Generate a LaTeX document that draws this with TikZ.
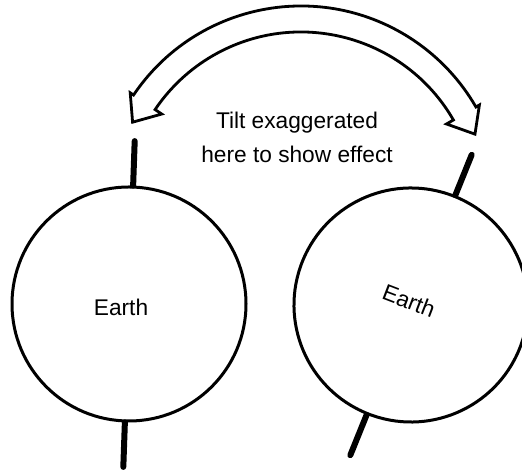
\documentclass[tikz,border=0pt]{standalone}
\usepackage{fontspec}
\setmainfont{Liberation Sans}
\usepackage{tikz}

\tikzset{
  earth/.style={circle, draw, line width=3pt, minimum size=234pt, inner sep=0pt},
  poleaxis/.style={line width=6pt, line cap=round},
  bigarrow/.style={draw, fill=white, line width=2.8pt, line join=miter},
  lbl/.style={font=\fontsize{22.7}{34}\selectfont, inner sep=0pt}
}

\begin{document}
\begin{tikzpicture}[x=1pt, y=1pt]
\useasboundingbox (0,0) rectangle (522,470);
\clip (0,0) rectangle (522,470);

% left earth, axis almost upright
\node[earth] (leftearth) at (129,166) {};
\node[lbl] (lefttext) at (121,163) {Earth};
\coordinate (lefttop) at ([shift={(88:163)}]leftearth.center);
\coordinate (leftbottom) at ([shift={(268:163)}]leftearth.center);
\draw[poleaxis] (leftearth.88) -- (lefttop);
\draw[poleaxis] (leftearth.268) -- (leftbottom);

% right earth, tilted
\node[earth, rotate=-22] (rightearth) at (411,165) {};
\node[lbl, rotate=-21] (righttext) at (409,169) {Earth};
\coordinate (righttop) at ([shift={(68:162)}]rightearth.center);
\coordinate (rightbottom) at ([shift={(248:162)}]rightearth.center);
\draw[poleaxis] (rightearth.north) -- (righttop);
\draw[poleaxis] (rightearth.south) -- (rightbottom);

% curved double arrow
\begin{scope}[shift={(301,262)}]
\draw[bigarrow] (146:176) -- (146:168) -- (153:189) -- (146:206) -- (146:202)
  arc[start angle=146, end angle=30, radius=202pt]
  -- (30:206) -- (23:189) -- (30:168) -- (30:176)
  arc[start angle=30, end angle=146, radius=176pt] -- cycle;
\end{scope}

% caption
\node[lbl, align=center] (caption) at (297,333) {Tilt exaggerated\\here to show effect};

\end{tikzpicture}
\end{document}
